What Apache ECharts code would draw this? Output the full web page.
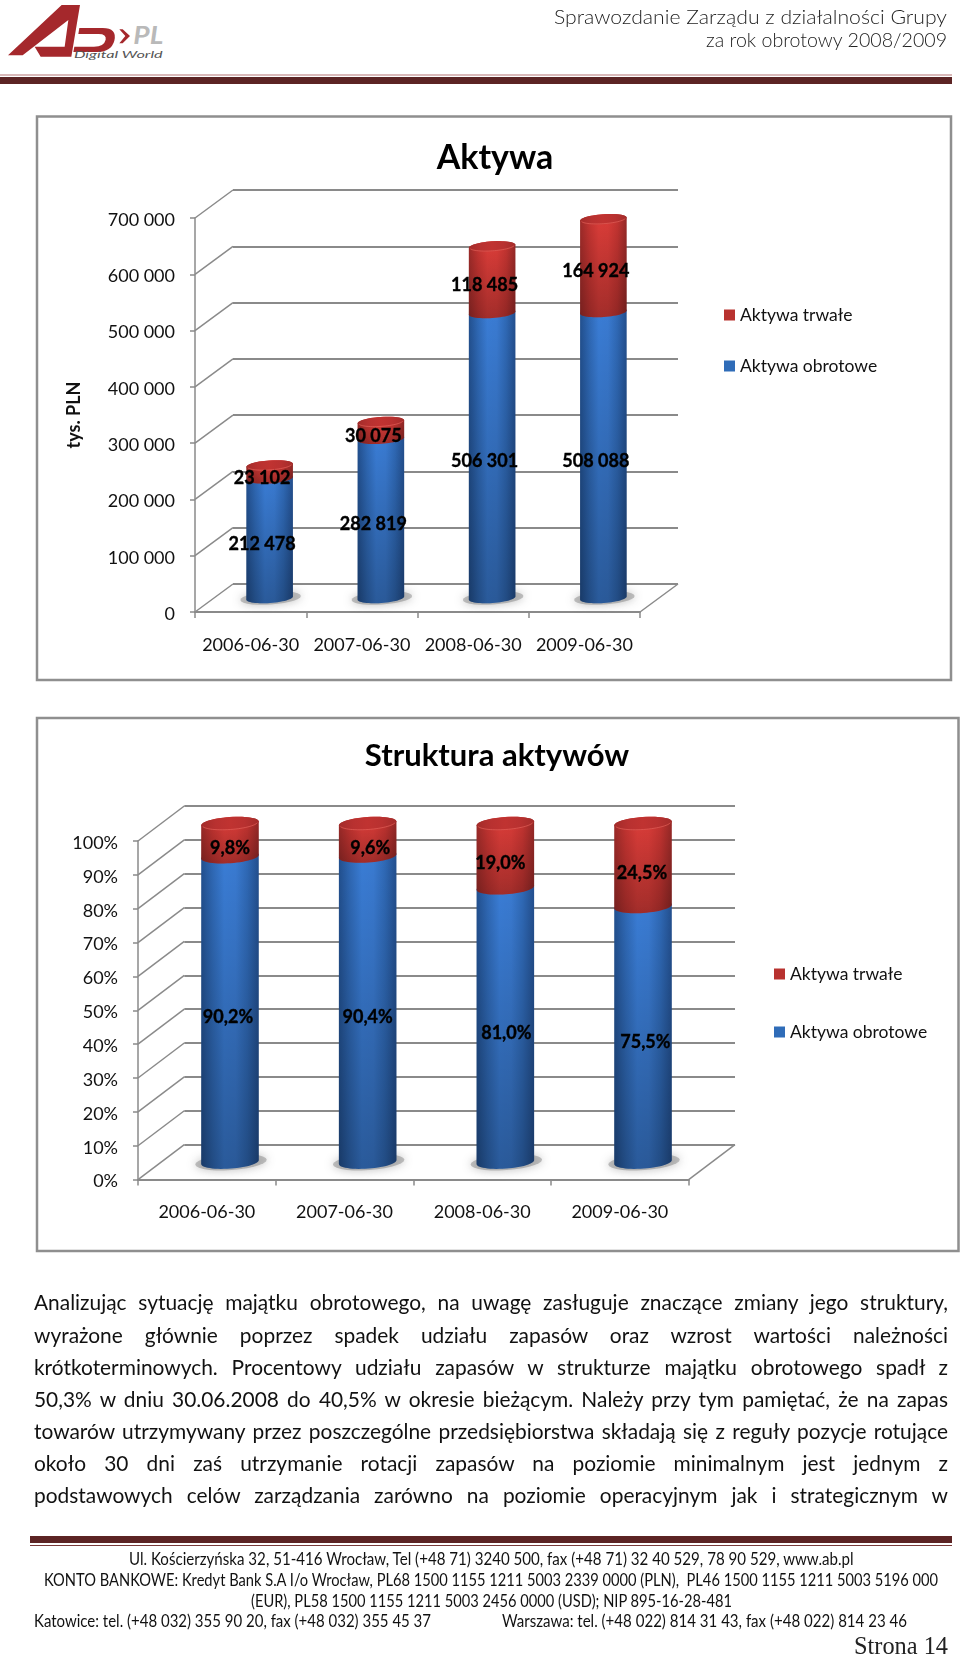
<!DOCTYPE html>
<html lang="pl">
<head>
<meta charset="utf-8">
<title>Aktywa</title>
<script src="https://cdn.jsdelivr.net/npm/echarts@6/dist/echarts.min.js"></script>
<style>
html,body{margin:0;padding:0;background:#fff;}
#page{position:relative;width:960px;height:1656px;overflow:hidden;background:#fff;font-family:Lato,sans-serif;color:#111;}
#chart{position:absolute;left:0;top:0;width:960px;height:1656px;}
.t{position:absolute;white-space:pre;transform-origin:0 50%;line-height:1;}
.rule{position:absolute;}
</style>
</head>
<body>
<div id="page">
  <svg style="position:absolute;left:0;top:0" width="180" height="70" viewBox="0 0 540 210">
    <polygon fill="#a5282c" points="24,166 185,15 240,15 214,170 122,170 104,140 194,140 205,60 68,166"/>
    <path fill="#a5282c" d="M238,84 L308,84 Q352,84 343,122 Q334,156 288,156 L220,156 L223,140 L282,140 Q312,140 317,119 Q320,102 296,102 L235,102 Z"/>
    <polygon fill="#a5282c" points="358,88 368,88 390,108 368,130 358,130 376,108"/>
    <text x="400" y="131" font-family="Lato" font-style="italic" font-weight="700" font-size="72" fill="#b9b9b9" textLength="90" lengthAdjust="spacingAndGlyphs">PL</text>
    <text x="222" y="174" font-family="Lato" font-style="italic" font-size="27" fill="#555" textLength="266" lengthAdjust="spacingAndGlyphs">Digital  World</text>
  </svg>
  <div class="rule" style="left:0;top:74px;width:952px;height:1.5px;background:#d9b9b9"></div>
  <div class="rule" style="left:0;top:77px;width:952px;height:7px;background:#5c2424"></div>
  <div class="rule" style="left:30px;top:1536px;width:922px;height:7px;background:#5c2424"></div>
  <div class="rule" style="left:30px;top:1544.5px;width:922px;height:1.5px;background:#7a3a3a"></div>
  <div id="chart"></div>
</div>
<script>
// ---- data ----
var categories = ['2006-06-30', '2007-06-30', '2008-06-30', '2009-06-30'];
var seriesNames = ['Aktywa obrotowe', 'Aktywa trwałe'];
var aktywaObrotowe = [212478, 282819, 506301, 508088];
var aktywaTrwale = [23102, 30075, 118485, 164924];
var strukturaObrotowe = [90.2, 90.4, 81.0, 75.5];
var strukturaTrwale = [9.8, 9.6, 19.0, 24.5];
var aktywaTicks = [0, 100000, 200000, 300000, 400000, 500000, 600000, 700000];
var strukturaTicks = [0, 10, 20, 30, 40, 50, 60, 70, 80, 90, 100];
var headerLines = ['Sprawozdanie Zarządu z działalności Grupy', 'za rok obrotowy 2008/2009'];
var bodyLines = [
 'Analizując sytuację majątku obrotowego, na uwagę zasługuje znaczące zmiany jego struktury,',
 'wyrażone głównie poprzez spadek udziału zapasów oraz wzrost wartości należności',
 'krótkoterminowych. Procentowy udziału zapasów w strukturze majątku obrotowego spadł z',
 '50,3% w dniu 30.06.2008 do 40,5% w okresie bieżącym. Należy przy tym pamiętać, że na zapas',
 'towarów utrzymywany przez poszczególne przedsiębiorstwa składają się z reguły pozycje rotujące',
 'około 30 dni zaś utrzymanie rotacji zapasów na poziomie minimalnym jest jednym z',
 'podstawowych celów zarządzania zarówno na poziomie operacyjnym jak i strategicznym w'
];
var footerLines = [
 'Ul. Kościerzyńska 32, 51-416 Wrocław, Tel (+48 71) 3240 500, fax (+48 71) 32 40 529, 78 90 529, www.ab.pl',
 'KONTO BANKOWE: Kredyt Bank S.A I/o Wrocław, PL68 1500 1155 1211 5003 2339 0000 (PLN),  PL46 1500 1155 1211 5003 5196 000',
 '(EUR), PL58 1500 1155 1211 5003 2456 0000 (USD); NIP 895-16-28-481',
 'Katowice: tel. (+48 032) 355 90 20, fax (+48 032) 355 45 37',
 'Warszawa: tel. (+48 022) 814 31 43, fax (+48 022) 814 23 46'
];
var pageLabel = 'Strona 14';

// ---- page text ----
var page = document.getElementById('page');
function addText(str, left, cy, width, css, justifyScale) {
  var el = document.createElement('div');
  el.className = 't';
  el.textContent = str;
  el.style.cssText = css;
  el.style.left = left + 'px';
  page.appendChild(el);
  var w = el.getBoundingClientRect().width, h = el.getBoundingClientRect().height;
  el.style.top = (cy - h / 2) + 'px';
  var spaces = (str.match(/ /g) || []).length;
  if (justifyScale && w * justifyScale < width && spaces) {
    el.style.wordSpacing = ((width / justifyScale - w) / spaces) + 'px';
    el.style.transform = 'scaleX(' + justifyScale + ')';
  } else {
    el.style.transform = 'scaleX(' + (width / w) + ')';
  }
}
addText(headerLines[0], 554, 15.5, 393, 'font-size:20px;font-weight:300;color:#222');
addText(headerLines[1], 706, 39, 241, 'font-size:20px;font-weight:300;color:#222');
var bodyY = [1302, 1334.5, 1366.5, 1398.5, 1431, 1463, 1495];
bodyLines.forEach(function (s, i) { addText(s, 34, bodyY[i], 914, 'font-size:22px;color:#111', 0.95); });
var footGeom = [[128.6, 1558.7, 724.5], [44, 1579.7, 894], [251, 1600, 481], [33.7, 1620, 397], [502, 1620, 405]];
footerLines.forEach(function (s, i) { addText(s, footGeom[i][0], footGeom[i][1], footGeom[i][2], 'font-size:17px;color:#111'); });
addText(pageLabel, 854, 1645, 94, 'font-family:\'Liberation Serif\',serif;font-size:25px;color:#222');

// ---- chart helpers ----
var AXIS = '#8a8a8a';
var FONT = 'Lato';
var TILT = -4 * Math.PI / 180;
function ell(cx, cy, rx, ry, t) {
  return [cx + rx * Math.cos(t) * Math.cos(TILT) - ry * Math.sin(t) * Math.sin(TILT),
          cy + rx * Math.cos(t) * Math.sin(TILT) + ry * Math.sin(t) * Math.cos(TILT)];
}
function arc(cx, cy, rx, ry, from, to) {
  var pts = [], n = 28;
  for (var i = 0; i <= n; i++) pts.push(ell(cx, cy, rx, ry, from + (to - from) * i / n));
  return pts;
}
function hGrad(stops) {
  return { type: 'linear', x: 0, y: 0, x2: 1, y2: 0,
    colorStops: stops.map(function (c, i) { return { offset: i / (stops.length - 1), color: c }; }) };
}
function vGrad(a, b) {
  return { type: 'linear', x: 0, y: 0, x2: 0, y2: 1, colorStops: [{ offset: 0, color: a }, { offset: 1, color: b }] };
}
var BLUE = ['#22508f', '#2f69b6', '#3a7dd6', '#3a7bd2', '#2f69b6', '#234f8e'];
var RED = ['#9e2b29', '#c43431', '#dc3d39', '#da3c38', '#c43431', '#972927'];

function cylinderSeries(cfg, name, grad, shade, isTop, isBase, nudges, fmt) {
  var vals = cfg.seriesData;
  return {
    type: 'custom', name: name, xAxisIndex: cfg.index * 3 + 2, yAxisIndex: cfg.index * 3 + 2,
    itemStyle: { color: grad[2] }, silent: true,
    encode: { x: 0, y: [1, 2] },
    data: (isBase ? vals.base : vals.top).map(function (v, i) {
      var start = isBase ? 0 : vals.base[i];
      return [i, start, start + v];
    }),
    renderItem: function (params, api) {
      var i = api.value(0), s = api.value(1), e = api.value(2);
      var p0 = api.coord([i, s]), p1 = api.coord([i, e]);
      var rx = cfg.cylW / 2, ry = cfg.cylRy, cx = p0[0];
      var pts = arc(cx, p0[1], rx, ry, Math.PI, 0).concat(arc(cx, p1[1], rx, ry, 0, -Math.PI));
      var kids = [];
      if (isBase) {
        kids.push({ type: 'polygon', z2: 1,
          shape: { points: arc(cx + 1, p0[1], rx + 7, ry + 1.5, 0, Math.PI * 2) },
          style: { fill: 'rgba(125,125,125,0.45)', shadowBlur: 10, shadowColor: 'rgba(90,90,90,0.85)' } });
      }
      kids.push({ type: 'polygon', z2: 2, shape: { points: pts }, style: { fill: hGrad(grad) } });
      kids.push({ type: 'polygon', z2: 3, shape: { points: pts }, style: { fill: vGrad('rgba(0,0,0,0)', shade) } });
      if (isTop) {
        var capPts = arc(cx, p1[1], rx, ry, 0, Math.PI * 2);
        kids.push({ type: 'polygon', z2: 4, shape: { points: capPts },
          style: { fill: hGrad(['#a32c2a', '#b83130', '#c03331', '#b83130', '#a32c2a']) } });
        kids.push({ type: 'polyline', z2: 5, shape: { points: arc(cx, p1[1], rx - 1, ry - 0.5, 0.2, Math.PI - 0.2) },
          style: { stroke: 'rgba(240,110,100,0.55)', lineWidth: 1, fill: 'none' } });
      }
      var mid = api.coord([i, (s + e) / 2]);
      kids.push({ type: 'text', z2: 100,
        x: mid[0] + cfg.labelDx + nudges[i], y: mid[1] + cfg.labelDy,
        style: { text: fmt(e - s), fill: '#000', stroke: '#000', lineWidth: 0.35,
          font: 'bold 18px ' + FONT, align: 'center', verticalAlign: 'middle' } });
      return { type: 'group', children: kids };
    }
  };
}

function depthSeries(cfg) {
  return {
    type: 'custom', name: 'depth', xAxisIndex: cfg.index * 3, yAxisIndex: cfg.index * 3, silent: true,
    encode: { y: 0 }, z: 1,
    data: cfg.ticks.map(function (t) { return [t]; }),
    renderItem: function (params, api) {
      var cs = params.coordSys, y = api.coord([0, api.value(0)])[1], kids = [];
      kids.push({ type: 'line', shape: { x1: cs.x, y1: y, x2: cs.x + cfg.depth[0], y2: y + cfg.depth[1] },
        style: { stroke: AXIS, lineWidth: 1.5 } });
      if (params.dataIndex === 0) {
        kids.push({ type: 'line', shape: { x1: cs.x + cs.width, y1: y, x2: cs.x + cs.width + cfg.depth[0], y2: y + cfg.depth[1] },
          style: { stroke: AXIS, lineWidth: 1.5 } });
      }
      return { type: 'group', children: kids };
    }
  };
}

var charts = [
  { index: 0, title: 'Aktywa', titleX: 490, titleY: 136, titleSize: 34,
    front: [195, 218, 445, 394], depth: [38, -28], max: 700000, interval: 100000, ticks: aktywaTicks,
    seriesData: { base: aktywaObrotowe, top: aktywaTrwale },
    cylW: 46.7, cylRy: 5, labelDx: -7.5, labelDy: 6,
    nudgeBase: [0, 0, 0, 0], nudgeTop: [0, 0, 0, 0],
    yFmt: function (v) { return v === 0 ? '0' : String(v).replace(/(\d)(?=(\d{3})+$)/g, '$1 '); },
    lblFmt: function (v) { return String(Math.round(v)).replace(/(\d)(?=(\d{3})+$)/g, '$1 '); },
    yName: 'tys. PLN', legend: [724, 306], legendGap: 33,
    frame: [37, 116.5, 914, 563.5] },
  { index: 1, title: 'Struktura aktywów', titleX: 492, titleY: 735, titleSize: 31,
    front: [138, 841, 550.7, 338.6], depth: [46.3, -35], max: 100, interval: 10, ticks: strukturaTicks,
    seriesData: { base: strukturaObrotowe, top: strukturaTrwale },
    cylW: 57.7, cylRy: 6.5, labelDx: 0, labelDy: 8,
    nudgeBase: [-2, 0, 1, 2.4], nudgeTop: [0, 2.6, -5, -1],
    yFmt: function (v) { return v + '%'; },
    lblFmt: function (v) { return v.toFixed(1).replace('.', ',') + '%'; },
    yName: '', legend: [774, 965], legendGap: 40,
    frame: [37, 718, 921.5, 533] }
];

var grids = [], xAxes = [], yAxes = [], series = [], titles = [], legends = [], frames = [];
charts.forEach(function (c) {
  var f = c.front, g = [
    { left: f[0], top: f[1], width: f[2], height: f[3] },
    { left: f[0] + c.depth[0], top: f[1] + c.depth[1], width: f[2], height: f[3] },
    { left: f[0] + c.depth[0] / 2, top: f[1] + c.depth[1] / 2, width: f[2], height: f[3] }
  ];
  g.forEach(function (gr, k) {
    var gi = c.index * 3 + k;
    grids.push(gr);
    xAxes.push({ type: 'category', gridIndex: gi, data: categories, show: k === 0,
      axisLine: { lineStyle: { color: AXIS, width: 2 } },
      axisTick: { show: true, length: 6, lineStyle: { color: AXIS, width: 1.5 } },
      axisLabel: { color: '#111', fontFamily: FONT, fontSize: 18, margin: 24, interval: 0 },
      splitLine: { show: false } });
    yAxes.push({ type: 'value', gridIndex: gi, min: 0, max: c.max, interval: c.interval,
      show: k !== 2,
      name: k === 0 ? c.yName : '', nameLocation: 'middle', nameRotate: 90, nameGap: 112,
      nameTextStyle: { fontFamily: FONT, fontSize: 18, fontWeight: 'bold', color: '#111' },
      axisLine: { show: k === 0, lineStyle: { color: AXIS, width: 1.5 } },
      axisTick: { show: k === 0, length: 5, lineStyle: { color: AXIS, width: 1.5 } },
      axisLabel: { show: k === 0, color: '#111', fontFamily: FONT, fontSize: 18, margin: 20,
        verticalAlign: 'top', lineHeight: 4, formatter: c.yFmt },
      splitLine: { show: k === 1, lineStyle: { color: AXIS, width: 2 } } });
  });
  series.push(depthSeries(c));
  series.push(cylinderSeries(c, seriesNames[0], BLUE, 'rgba(0,0,0,0.28)', false, true, c.nudgeBase, c.lblFmt));
  series.push(cylinderSeries(c, seriesNames[1], RED, 'rgba(0,0,0,0.26)', true, false, c.nudgeTop, c.lblFmt));
  titles.push({ text: c.title, left: c.titleX, top: c.titleY, textAlign: 'center',
    textStyle: { fontFamily: FONT, fontSize: c.titleSize, fontWeight: 'bold', color: '#000' } });
  legends.push({ orient: 'vertical', left: c.legend[0], top: c.legend[1], padding: 0,
    itemWidth: 11, itemHeight: 11, itemGap: c.legendGap, selectedMode: false,
    textStyle: { fontFamily: FONT, fontSize: 17.5, color: '#111' },
    data: [
      { name: seriesNames[1], icon: 'rect', itemStyle: { color: '#b8322f' } },
      { name: seriesNames[0], icon: 'rect', itemStyle: { color: '#2f6cb8' } }
    ] });
  frames.push({ type: 'rect', z: -1, shape: { x: c.frame[0], y: c.frame[1], width: c.frame[2], height: c.frame[3] },
    style: { fill: 'none', stroke: '#8f8f8f', lineWidth: 2.5 } });
});

var chart = echarts.init(document.getElementById('chart'), null, { renderer: 'canvas' });
chart.setOption({
  animation: false,
  backgroundColor: 'transparent',
  title: titles, legend: legends, grid: grids, xAxis: xAxes, yAxis: yAxes, series: series,
  graphic: { elements: frames }
});
</script>
</body>
</html>
